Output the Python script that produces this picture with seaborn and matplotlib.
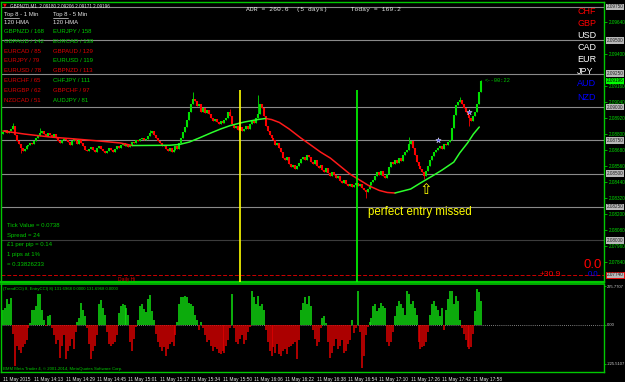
import matplotlib
matplotlib.use("Agg")
import matplotlib.pyplot as plt
import matplotlib.transforms as mtrans
from matplotlib.lines import Line2D
import numpy as np
import pandas as pd
import seaborn as sns

# ---------------- data ----------------
BASE = 2.08000          # closes are stored in points (1e-5) above this base
close_pts = [
    812, 827, 805, 820, 835, 857, 790, 745, 722, 692, 670, 685, 707, 715, 730, 722,
    745, 767, 782, 805, 820, 797, 782, 805, 790, 775, 797, 767, 745, 730, 752, 760,
    752, 737, 715, 745, 760, 745, 722, 752, 730, 707, 677, 670, 685, 700, 677, 662,
    692, 707, 685, 670, 655, 670, 692, 677, 662, 685, 707, 692, 715, 730, 707, 722,
    700, 715, 737, 730, 752, 745, 760, 767, 752, 760, 782, 805, 820, 790, 767, 745,
    730, 707, 715, 685, 670, 692, 662, 677, 707, 685, 730, 767, 812, 850, 902, 962,
    1022, 1060, 1045, 1007, 1022, 962, 992, 955, 977, 947, 917, 895, 910, 887, 872, 895,
    880, 902, 917, 962, 932, 872, 842, 857, 827, 850, 820, 835, 857, 835, 872, 895,
    880, 917, 947, 1022, 992, 932, 857, 820, 790, 767, 752, 715, 730, 692, 662, 617,
    602, 625, 572, 550, 565, 535, 557, 580, 610, 625, 602, 640, 625, 587, 572, 602,
    557, 542, 565, 527, 512, 542, 505, 482, 512, 490, 467, 482, 445, 430, 452, 422,
    407, 422, 400, 415, 430, 407, 422, 392, 377, 362, 385, 415, 437, 452, 482, 512,
    490, 520, 482, 467, 497, 550, 587, 572, 602, 580, 617, 595, 640, 662, 677, 722,
    745, 692, 640, 587, 557, 535, 512, 482, 520, 557, 602, 632, 662, 677, 692, 707,
    685, 722, 715, 737, 752, 842, 940, 1015, 1037, 1052, 1022, 992, 962, 940, 917, 895,
    932, 962, 1022, 1112, 1196,
]
first_open_pts = 800
spike_idx = [5, 9, 19, 75, 97, 116, 130, 185, 207, 215, 233, 238, 244]
spike_pts = [880, 655, 842, 827, 1112, 985, 1090, 317, 775, 460, 1075, 857, 1202]

ma_idx = [0, 11, 24, 37, 49, 60, 66, 75, 85, 90, 95, 100, 106, 111, 116, 123, 130,
          134, 137, 141, 146, 152, 157, 162, 167, 172, 177, 182, 187, 192, 196, 200,
          208, 213, 219, 224, 230, 233, 237, 240, 243]
ma_pts = [820, 797, 775, 760, 745, 730, 711, 712, 713, 719, 737, 767, 805, 835, 861,
          887, 906, 914, 906, 884, 835, 767, 715, 662, 617, 557, 497, 452, 407, 374,
          359, 355, 385, 430, 482, 527, 587, 655, 730, 797, 850]

cci = [
    90, 100, 150, 120, 155,
    -50, -238, -120, -145, -160, -130, -110, -85, -20,
    10, 85, 85, 110, 181, 181, 90, 30,
    -5, 50, 60,
    -15, -60, -110, -90, -190, -120, -60, -200, -150, -120, -80, -140, -40,
    20, 40, 130, 90, 50,
    -20, -110, -200, -150, -120, -60,
    120, 145, 100, 60,
    -40, -110, -120, -110, -100, -60,
    70, 110, 120, 115, 100, 60,
    -100, -150, -80, -10,
    30, 110, 120, 95, 75, 150, 175, 80, 30,
    -50, -100, -130, -150, -130, -180, -140, -110, -100, -120, -60,
    20, 120, 165, 160, 170, 160, 130, 120, 110, 60, 30,
    -30, 15,
    -20, -60, -100, -90, -120, -150, -130, -140, -160, -170, -150, -160, -120, -90, -20,
    180,
    -20, -100, -110, -80, -60, -110, -90, -40, -10,
    200, 160, 120, 170, 110, 120, 90,
    -30, -100, -150, -180, -130, -160, -110, -170, -180, -150, -140, -170, -130, -120, -110, -100, -200, -90,
    90, 130, 160, 120, 170, 110,
    -30, -80, -120, -100, -20,
    40, 50, 10,
    -100, -190, -160, -120, -80, -140, -120, -90, -160, -150, -110, -90,
    30,
    -45, -20,
    200,
    -40, -250, -180, -60, -10,
    20, 40, 110, 120, 80, 100, 130, 110, 100,
    -100, -120, -100, -40,
    50, 110, 140, 120, 100, 60, 200, 180, 120, 140, 100, 60,
    -100, -140, -130, -120, -100, -40,
    60, 120, 140, 110, 90, 50, 100,
    -30,
    90, 150, 200, 200, 120, 170, 140, 30,
    -20, -50, -90, -130, -140, -130, -50,
    80, 210, 190, 140,
]

time_idx = [0, 16, 32, 48, 64, 80, 96, 112, 128, 144, 160, 176, 192, 208, 224, 240]
time_labels = ["11 May 2015", "11 May 14:13", "11 May 14:29", "11 May 14:45",
               "11 May 15:01", "11 May 15:17", "11 May 15:34", "11 May 15:50",
               "11 May 16:06", "11 May 16:22", "11 May 16:38", "11 May 16:54",
               "11 May 17:10", "11 May 17:26", "11 May 17:42", "11 May 17:58"]

price_ticks = [2.09640, 2.09400, 2.09160, 2.09040, 2.08920,
               2.08800, 2.08680, 2.08560, 2.08440, 2.08320, 2.08200, 2.08080, 2.07960,
               2.07840]
levels = [2.0975, 2.0950, 2.0925, 2.0900, 2.0875, 2.0850, 2.0825, 2.0800]
daily_line = 2.07740
current_price = 2.09196

vline_idx = [120.9, 180.6]
vline_colors = ["#ffff00", "#00ff00"]
vline_top = 2.09128

star_idx = [222, 238]
star_pts = [752, 962]

cci_ticks = [225.7707, 0.0, -225.5107]
cci_tick_labels = ["225.7707", "0.00", "-225.5107"]

left_pairs = ["GBPNZD / 168", "GBPAUD / 142", "EURCAD / 85", "EURJPY / 79",
              "EURUSD / 78", "EURCHF / 65", "EURGBP / 62", "NZDCAD / 51"]
left_up = [1, 1, 0, 0, 0, 0, 0, 0]
right_pairs = ["EURJPY / 158", "EURCAD / 139", "GBPAUD / 129", "EURUSD / 119",
               "GBPNZD / 113", "CHFJPY / 111", "GBPCHF / 97", "AUDJPY / 81"]
right_up = [1, 1, 0, 1, 0, 1, 0, 1]

currencies = ["CHF", "GBP", "USD", "CAD", "EUR", "JPY", "AUD", "NZD"]
currency_colors = ["#ff0000", "#ff0000", "#ffffff", "#ffffff", "#ffffff", "#ffffff",
                   "#0000ff", "#0000ff"]

info_lines = ["Tick Value = 0.0738", "Spread = 24", "£1 per pip = 0.14",
              "1 pips at 1%", "= 0.33826233"]

# ---------------- style ----------------
sns.set_style("dark", {"axes.facecolor": "black", "figure.facecolor": "black"})
plt.rcParams["font.family"] = ["Liberation Sans", "DejaVu Sans"]

W, H = 625, 382
fig = plt.figure(figsize=(W / 100, H / 100), dpi=100, facecolor="black")

GREEN_AX = "#00c800"
BULL = "#00e000"
BEAR = "#ff0000"


def px_rect(left, top, right, bottom):
    return [left / W, 1 - bottom / H, (right - left) / W, (bottom - top) / H]


def ptext(px, py, s, **kw):
    kw.setdefault("va", "center")
    kw.setdefault("ha", "left")
    fig.text(px / W, 1 - py / H, s, **kw)


# px = 3 + 1.96 * index
XL = ((1 - 3) / 1.96, (604 - 3) / 1.96)

ax = fig.add_axes(px_rect(1, 2, 604, 282))
axs = fig.add_axes(px_rect(1, 284, 604, 372))
for a in (ax, axs):
    a.set_facecolor("black")
    for sp in a.spines.values():
        sp.set_color(GREEN_AX)
        sp.set_linewidth(1.0)
ax.spines["bottom"].set_linewidth(1.6)
axs.spines["top"].set_linewidth(1.2)

# ---------------- main price chart ----------------
n = len(close_pts)
idx = np.arange(n)
close = BASE + np.array(close_pts) / 1e5
opens = np.concatenate([[BASE + first_open_pts / 1e5], close[:-1]])
high = np.maximum(opens, close)
low = np.minimum(opens, close)
for k, p in zip(spike_idx, spike_pts):
    v = BASE + p / 1e5
    high[k] = max(high[k], v)
    low[k] = min(low[k], v)
bull = close >= opens
cols = np.where(bull, BULL, BEAR)

for lv in levels:
    ax.axhline(lv, color="#3c3c3c" if lv == 2.08 else "#8a8a8a", lw=0.8, zorder=1)
ax.axhline(daily_line, color="#cc0000", lw=0.7, ls=(0, (4, 2)), zorder=1)

ax.vlines(idx, low, high, colors=cols, lw=0.6, zorder=3)
btop = np.maximum(np.maximum(opens, close), np.minimum(opens, close) + 0.00004)
ax.vlines(idx, np.minimum(opens, close), btop, colors=cols, lw=1.5, zorder=3)

# HMA line coloured by slope (seaborn lineplot with one unit per run)
ma = BASE + np.array(ma_pts) / 1e5
rows = []
seg = 0
prev_dir = None
for j in range(len(ma_idx) - 1):
    d = "up" if ma[j + 1] >= ma[j] else "down"
    if d != prev_dir:
        seg += 1
        prev_dir = d
    rows.append((ma_idx[j], ma[j], d, seg))
    rows.append((ma_idx[j + 1], ma[j + 1], d, seg))
ma_df = pd.DataFrame(rows, columns=["i", "ma", "dir", "seg"])
sns.lineplot(data=ma_df, x="i", y="ma", hue="dir", units="seg", estimator=None,
             palette={"up": "#2cff2c", "down": "#ff1a1a"}, sort=False, legend=False,
             lw=1.1, ax=ax, zorder=4)

for xi, c in zip(vline_idx, vline_colors):
    ax.vlines(xi, 2.0768, vline_top, colors=c, lw=1.2, zorder=5)

ax.scatter(star_idx, BASE + np.array(star_pts) / 1e5, marker="*", s=16,
           c="#4a4aff", edgecolors="white", linewidths=0.3, zorder=6)

ax.set_xlim(*XL)
ax.set_ylim(2.076875, 2.097875)
ax.set_xticks([])
ax.set_xlabel("")
ax.set_ylabel("")
ax.yaxis.tick_right()
ax.set_yticks(price_ticks)
ax.set_yticklabels([f"{p:.5f}" for p in price_ticks])
ax.tick_params(axis="y", colors=GREEN_AX, labelcolor="#00e000", labelsize=3.3,
               length=2, width=0.6, pad=1.2)

bt = mtrans.blended_transform_factory(ax.transAxes, ax.transData)
for lv in levels:
    ax.text(1.004, lv, f"{lv:.5f}", transform=bt, fontsize=3.3, color="#202020",
            va="center", ha="left", clip_on=False, zorder=10,
            bbox=dict(boxstyle="square,pad=0.15", fc="#b8b8b8", ec="none"))
ax.text(1.004, current_price, f"{current_price:.5f}", transform=bt, fontsize=3.3,
        color="black", va="center", ha="left", clip_on=False, zorder=11,
        bbox=dict(boxstyle="square,pad=0.15", fc="#00ff00", ec="none"))
ax.text(1.004, daily_line, f"{daily_line:.5f}", transform=bt, fontsize=3.3,
        color="#202020", va="center", ha="left", clip_on=False, zorder=11,
        bbox=dict(boxstyle="square,pad=0.15", fc="#b8b8b8", ec="#ff0000", lw=0.6))

ax.annotate("perfect entry missed", xy=(186, 2.08213), fontsize=8.3, color="#ffff00",
            va="center", ha="left")
ax.annotate("\u21e7", xy=(215.5, 2.08378), fontsize=11, color="#ffff00",
            va="center", ha="center", family="DejaVu Sans")
ax.annotate("<--00:22", xy=(246, current_price), fontsize=3.9, color="#00c000",
            va="center", ha="left", family="Liberation Mono")

# ---------------- CCI sub window ----------------
cdf = pd.DataFrame({"i": np.arange(len(cci)), "v": np.array(cci, dtype=float)})
cdf["col"] = np.where(cdf["v"] >= 0, "#10e010", "#e00000")
axs.vlines(cdf["i"], 0, cdf["v"], colors=cdf["col"].tolist(), lw=1.1, zorder=3)
axs.axhline(0, color="#a8a8a8", lw=0.6, ls=(0, (1, 1.5)), zorder=2)
axs.set_xlim(*XL)
axs.set_ylim(-273.3, 238.4)
axs.set_xlabel("")
axs.set_ylabel("")
axs.set_xticks(time_idx)
axs.set_xticklabels(time_labels, ha="left")
axs.tick_params(axis="x", colors=GREEN_AX, labelcolor="#e8e8e8", labelsize=3.4,
                length=2, width=0.6, pad=1.5)
axs.yaxis.tick_right()
axs.set_yticks(cci_ticks)
axs.set_yticklabels(cci_tick_labels)
axs.tick_params(axis="y", colors=GREEN_AX, labelcolor="#d0d0d0", labelsize=3.0,
                length=1.5, width=0.6, pad=0.8)

# ---------------- overlay texts ----------------
ptext(3, 5, "\u25bc", color="#ff0000", fontsize=3.5, family="DejaVu Sans")
ptext(10, 5.5, "GBPNZD,M1  2.09180 2.09206 2.09171 2.09196", color="#e0e0e0",
      fontsize=3.3)
ptext(246, 10, "ADR = 260.6  (5 days)      Today = 169.2", color="#e6e6e6",
      fontsize=4.6, family="Liberation Mono")

for colx, txt in ((4, "Top 8 - 1 Min"), (53, "Top 8 - 5 Min")):
    ptext(colx, 14.5, txt, color="#e0e0e0", fontsize=4.3)
    ptext(colx, 22.3, "120 HMA", color="#e0e0e0", fontsize=4.3)
    fig.add_artist(Line2D([colx / W, (colx + 15) / W], [1 - 17.6 / H, 1 - 17.6 / H],
                          color="#e0e0e0", lw=0.5))

row_y = [31.7, 41.7, 51.7, 61.0, 70.7, 80.7, 90.0, 100.0]
for y, t, u in zip(row_y, left_pairs, left_up):
    ptext(4, y, t, color="#00cc00" if u else "#dd0000", fontsize=4.3)
for y, t, u in zip(row_y, right_pairs, right_up):
    ptext(53, y, t, color="#00cc00" if u else "#dd0000", fontsize=4.3)

cur_y = [11, 23, 35, 47, 60, 72, 84, 97]
for y, t, c in zip(cur_y, currencies, currency_colors):
    ptext(577, y, t, color=c, fontsize=6.5)

info_y = [225, 235, 244.5, 254.5, 264.5]
for y, t in zip(info_y, info_lines):
    ptext(7, y, t, color="#00c800", fontsize=4.3)

ptext(118, 279, "Daily Hi", color="#dd0000", fontsize=3.6)
ptext(583, 264.5, "0.0", color="#ff0000", fontsize=9.5)
ptext(540, 274.5, "+30.9", color="#ff0000", fontsize=6.0)
ptext(588, 275, "0.0", color="#0000ff", fontsize=5.6)

ptext(3, 289, "(TrendCCI) 8, EntryCCI) 8) 131.6968 0.0000 131.6968 0.0000",
      color="#00c800", fontsize=3.1)
ptext(3, 369, "BMM Meta Trader 4, \u00a9 2001-2014, MetaQuotes Software Corp.",
      color="#00c800", fontsize=3.1)

fig.savefig("out.png", dpi=100, facecolor="black")
